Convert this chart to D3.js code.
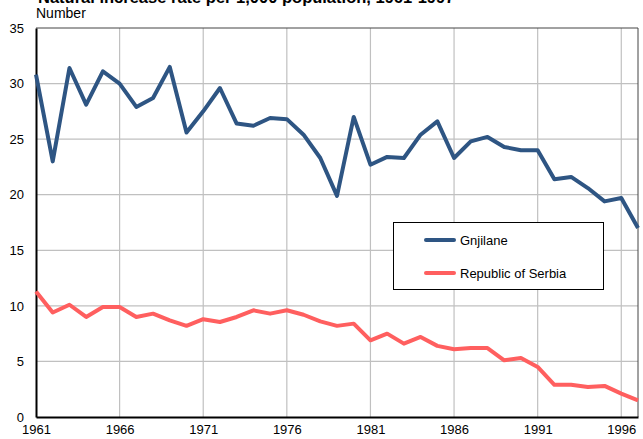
<!DOCTYPE html>
<html><head><meta charset="utf-8">
<script src="https://cdn.jsdelivr.net/npm/d3@7"></script>
<style>body{margin:0;background:#fff}svg{display:block}</style>
</head><body>
<script>
const years = d3.range(1961, 1998);
const gnjilane = [30.8,23.0,31.4,28.1,31.1,30.0,27.9,28.7,31.5,25.6,27.5,29.6,26.4,26.2,26.9,26.8,25.4,23.3,19.9,27.0,22.7,23.4,23.3,25.4,26.6,23.3,24.8,25.2,24.3,24.0,24.0,21.4,21.6,20.6,19.4,19.7,17.0];
const serbia = [11.3,9.4,10.1,9.0,9.9,9.9,9.0,9.3,8.7,8.2,8.8,8.55,9.0,9.6,9.3,9.6,9.2,8.6,8.2,8.4,6.9,7.5,6.6,7.2,6.4,6.1,6.2,6.2,5.1,5.3,4.5,2.9,2.9,2.7,2.8,2.1,1.5];
const seriesNames = ["Gnjilane","Republic of Serbia"];
const yTicks = [0,5,10,15,20,25,30,35];
const xTicks = [1961,1966,1971,1976,1981,1986,1991,1996];
const title = "Natural increase rate per 1,000 population, 1961-1997";

const FONT="'Liberation Sans', Arial, sans-serif";
const W=643,H=439, L=36, R=638, T=28, B=417;
const svg=d3.select("body").append("svg").attr("width",W).attr("height",H)
  .style("font-family",FONT);
const x=d3.scaleLinear().domain([1961,1997]).range([L,R]);
const y=d3.scaleLinear().domain([0,35]).range([B,T]);

svg.append("text").attr("x",38).attr("y",3).attr("font-size",16.5).attr("font-weight","bold").text(title);
svg.append("text").attr("x",36).attr("y",18).attr("font-size",14).text("Number");

// grid
svg.append("g").selectAll("line").data(yTicks.slice(1,-1)).join("line")
  .attr("x1",L).attr("x2",R).attr("y1",d=>y(d)).attr("y2",d=>y(d))
  .attr("stroke","#c0c0c0").attr("stroke-width",1.2);
svg.append("g").selectAll("line").data(xTicks.slice(1)).join("line")
  .attr("x1",d=>x(d)).attr("x2",d=>x(d)).attr("y1",T).attr("y2",B)
  .attr("stroke","#c0c0c0").attr("stroke-width",1.2);
// frame
svg.append("line").attr("x1",L).attr("x2",R).attr("y1",T).attr("y2",T).attr("stroke","#444").attr("stroke-width",1);
svg.append("line").attr("x1",R).attr("x2",R).attr("y1",T).attr("y2",B).attr("stroke","#444").attr("stroke-width",1);

// axes
const ya=svg.append("g").attr("transform",`translate(${L},0)`)
  .call(d3.axisLeft(y).tickValues(yTicks).tickSize(0).tickPadding(12));
ya.select(".domain").attr("stroke","#000").attr("stroke-width",2);
ya.selectAll("text").attr("font-size",13).attr("fill","#000").attr("font-family",FONT);
const xa=svg.append("g").attr("transform",`translate(0,${B})`)
  .call(d3.axisBottom(x).tickValues(xTicks).tickFormat(d3.format("d")).tickSize(0).tickPadding(8));
xa.select(".domain").attr("stroke","#000").attr("stroke-width",2);
xa.selectAll("text").attr("font-size",13).attr("fill","#000").attr("font-family",FONT);

const colors=["#2e5583","#ff5f5f"];
const line=d3.line().x((d,i)=>x(years[i])).y(d=>y(d));
[gnjilane,serbia].forEach((s,k)=>{
  svg.append("path").datum(s).attr("d",line).attr("fill","none")
    .attr("stroke",colors[k]).attr("stroke-width",4).attr("stroke-linejoin","round");
});

// legend
const lg=svg.append("g");
lg.append("rect").attr("x",393.5).attr("y",222.5).attr("width",210).attr("height",67)
  .attr("fill","#fff").attr("stroke","#000").attr("stroke-width",1);
seriesNames.forEach((n,k)=>{
  const yy=240+k*33;
  lg.append("line").attr("x1",426).attr("x2",454).attr("y1",yy).attr("y2",yy)
    .attr("stroke",colors[k]).attr("stroke-width",4).attr("stroke-linecap","round");
  lg.append("text").attr("x",460).attr("y",yy+5).attr("font-size",13).text(n);
});
</script>
</body></html>
